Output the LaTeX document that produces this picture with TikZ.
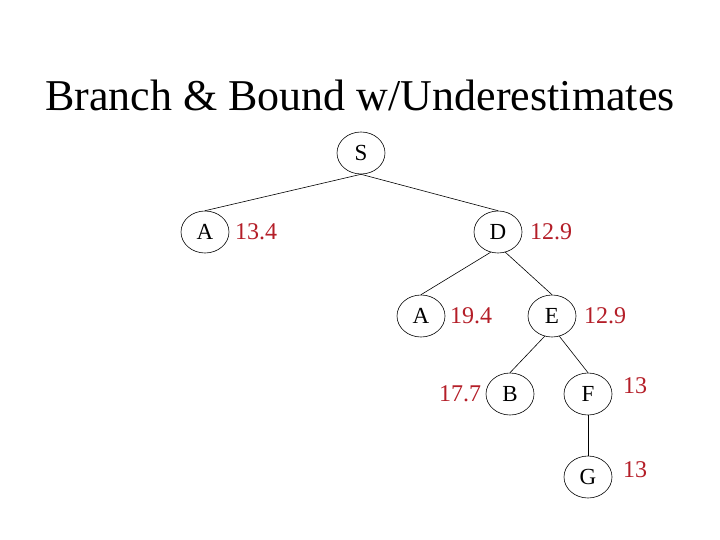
\documentclass[tikz,border=0pt]{standalone}
\usepackage{fontspec}
\setmainfont{Liberation Serif}
\usetikzlibrary{shapes.geometric}
\definecolor{costred}{RGB}{180, 30, 40}

\begin{document}
\begin{tikzpicture}[
  x=1pt, y=-1pt, line width=0.6pt,
  tnode/.style={draw, ellipse, minimum width=48pt, minimum height=42pt, inner sep=0pt, font=\fontsize{23}{27}\selectfont},
  cost/.style={text=costred, inner sep=0pt, font=\fontsize{24}{28}\selectfont}
]
  \useasboundingbox (0,0) rectangle (720,540);

  \node[anchor=base, font=\fontsize{44}{52}\selectfont] (title) at (360,111) {Branch \& Bound w/Underestimates};

  % search tree
  \node[tnode] (S) at (361,153) {S};
  \node[tnode] (A1) at (205,232) {A};
  \node[tnode] (D) at (498,232) {D};
  \node[tnode] (A2) at (421,316) {A};
  \node[tnode] (E) at (552,316) {E};
  \node[tnode] (B) at (510,394) {B};
  \node[tnode] (F) at (588,394) {F};
  \node[tnode] (G) at (588,477) {G};

  % estimates
  \node[cost] (cA1) at (256,232) {13.4};
  \node[cost] (cD) at (551,232) {12.9};
  \node[cost] (cA2) at (471,316) {19.4};
  \node[cost] (cE) at (605,316) {12.9};
  \node[cost] (cB) at (460,394) {17.7};
  \node[cost] (cF) at (635,386) {13};
  \node[cost] (cG) at (635,470) {13};

  \draw (S.south) -- (A1.north);
  \draw (S.south) -- (D.north);
  \draw (D.250) -- (A2.north);
  \draw (D.290) -- (E.north);
  \draw (E.250) -- (B.north);
  \draw (E.290) -- (F.north);
  \draw (F.south) -- (G.north);
\end{tikzpicture}
\end{document}
